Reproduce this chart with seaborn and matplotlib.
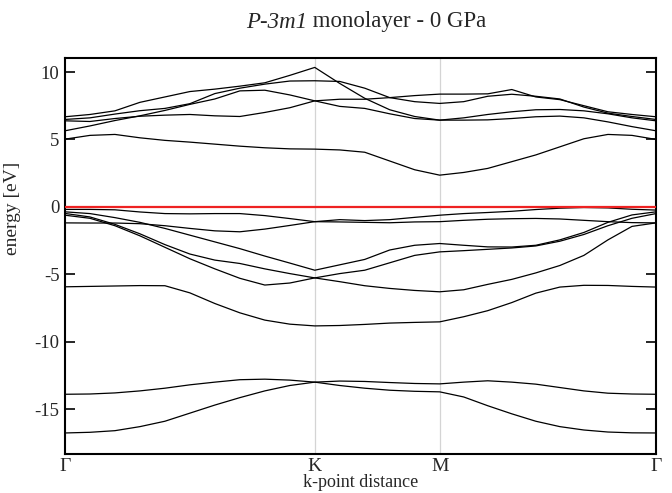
import numpy as np
import pandas as pd
import matplotlib
matplotlib.use("Agg")
import matplotlib.pyplot as plt
import seaborn as sns

# high-symmetry points (k-point distance, units of 2pi/a)
sym_labels = ["Γ", "K", "M", "Γ"]
sym_k = [0.0, 0.6667, 1.0, 1.5774]

# k grid: 10 steps G-K, 5 steps K-M, 9 steps M-G
k = np.concatenate([
    np.linspace(sym_k[0], sym_k[1], 11),
    np.linspace(sym_k[1], sym_k[2], 6)[1:],
    np.linspace(sym_k[2], sym_k[3], 10)[1:],
])

# band energies (eV), one list per drawn curve
deep_1 = [-16.77, -16.72, -16.6, -16.3, -15.9, -15.3, -14.7, -14.15, -13.65, -13.25, -13.0,
          -13.25, -13.45, -13.6, -13.68, -13.72,
          -14.1, -14.75, -15.35, -15.9, -16.3, -16.55, -16.7, -16.76, -16.77]
deep_2 = [-13.9, -13.88, -13.8, -13.65, -13.45, -13.2, -13.0, -12.82, -12.78, -12.85, -13.0,
          -12.92, -12.95, -13.03, -13.1, -13.13,
          -13.0, -12.9, -13.0, -13.15, -13.4, -13.65, -13.82, -13.88, -13.9]

val_1 = [-5.93, -5.9, -5.87, -5.84, -5.85, -6.38, -7.17, -7.86, -8.4, -8.7, -8.83,
         -8.8, -8.72, -8.62, -8.57, -8.53,
         -8.15, -7.7, -7.1, -6.4, -5.95, -5.82, -5.83, -5.9, -5.95]
val_2 = [-0.49, -0.75, -1.3, -2.0, -2.8, -3.5, -3.95, -4.2, -4.6, -4.95, -5.27,
         -5.55, -5.85, -6.05, -6.2, -6.3,
         -6.15, -5.75, -5.38, -4.9, -4.35, -3.6, -2.45, -1.45, -1.19]
val_3 = [-0.62, -0.85, -1.4, -2.15, -3.0, -3.85, -4.6, -5.3, -5.8, -5.65, -5.27,
         -4.95, -4.7, -4.15, -3.6, -3.34,
         -3.25, -3.15, -3.05, -2.9, -2.55, -2.05, -1.4, -0.85, -0.5]
val_4 = [-0.37, -0.5, -0.8, -1.15, -1.6, -2.1, -2.6, -3.1, -3.65, -4.17, -4.7,
         -4.3, -3.9, -3.2, -2.85, -2.72,
         -2.85, -2.97, -2.98, -2.85, -2.45, -1.9, -1.15, -0.6, -0.37]
val_5 = [-1.19, -1.2, -1.2, -1.25, -1.4, -1.6, -1.78, -1.85, -1.65, -1.38, -1.1,
         -0.95, -1.02, -0.95, -0.78, -0.62,
         -0.5, -0.42, -0.33, -0.2, -0.1, -0.05, -0.08, -0.18, -0.24]
val_6 = [-0.19, -0.19, -0.22, -0.38, -0.5, -0.52, -0.5, -0.5, -0.65, -0.87, -1.1,
         -1.12, -1.15, -1.18, -1.12, -1.1,
         -1.0, -0.92, -0.88, -0.86, -0.9, -1.0, -1.1, -1.17, -1.19]

cond_1 = [5.02, 5.3, 5.37, 5.12, 4.93, 4.8, 4.65, 4.5, 4.38, 4.3, 4.28,
          4.22, 4.05, 3.4, 2.75, 2.35,
          2.55, 2.85, 3.35, 3.85, 4.45, 5.05, 5.37, 5.3, 5.0]
cond_2 = [5.64, 6.0, 6.4, 6.75, 7.15, 7.6, 8.0, 8.6, 8.65, 8.3, 7.86,
          7.45, 7.3, 6.9, 6.55, 6.43,
          6.6, 6.85, 7.05, 7.2, 7.22, 7.12, 6.9, 6.6, 6.38]
cond_3 = [6.38, 6.33, 6.55, 6.72, 6.8, 6.85, 6.75, 6.7, 7.0, 7.35, 7.86,
          7.98, 7.98, 8.1, 8.25, 8.36,
          8.36, 8.38, 8.7, 8.15, 7.95, 7.5, 7.05, 6.85, 6.68]
cond_4 = [6.48, 6.6, 6.88, 7.13, 7.3, 7.65, 8.4, 8.8, 9.1, 9.33, 9.35,
          9.3, 8.8, 8.1, 7.8, 7.67,
          7.8, 8.2, 8.35, 8.2, 8.0, 7.4, 6.95, 6.7, 6.48]
cond_5 = [6.68, 6.85, 7.12, 7.75, 8.15, 8.55, 8.73, 8.95, 9.2, 9.75, 10.34,
          9.15, 8.05, 7.2, 6.7, 6.43,
          6.43, 6.45, 6.55, 6.68, 6.73, 6.6, 6.3, 5.95, 5.64]

bands = {
    "deep_1": deep_1, "deep_2": deep_2,
    "val_1": val_1, "val_2": val_2, "val_3": val_3,
    "val_4": val_4, "val_5": val_5, "val_6": val_6,
    "cond_1": cond_1, "cond_2": cond_2, "cond_3": cond_3,
    "cond_4": cond_4, "cond_5": cond_5,
}

df = pd.concat(
    [pd.DataFrame({"k": k, "energy": e, "band": name}) for name, e in bands.items()],
    ignore_index=True,
)

sns.set_theme(style="white")
plt.rcParams["font.family"] = ["Liberation Serif", "DejaVu Serif"]
plt.rcParams["axes.unicode_minus"] = False

fig = plt.figure(figsize=(6.72, 4.93), dpi=100)
ax = fig.add_axes([0.0967, 0.0791, 0.8795, 0.8033])

for kx in sym_k[1:-1]:
    ax.axvline(kx, color="#d4d4d4", lw=0.9, zorder=1)

sns.lineplot(data=df, x="k", y="energy", units="band", estimator=None,
             sort=False, color="black", linewidth=0.9, legend=False, ax=ax, zorder=2)

ax.axhline(0, color="#ee2222", lw=1.6, zorder=3)

ax.set_xlim(sym_k[0], sym_k[-1])
ax.set_ylim(-18.33, 11.04)
ax.set_xticks(sym_k)
ax.set_xticklabels(sym_labels, fontsize=14)
ax.set_yticks([-15, -10, -5, 0, 5, 10])
ax.set_yticklabels(["-15", "-10", "-5", "0", "5", "10"], fontsize=13.5)
ax.tick_params(axis="y", direction="in", length=7, width=1.4, left=True, right=True, pad=4)
ax.tick_params(axis="x", length=0, pad=3)
for sp in ax.spines.values():
    sp.set_linewidth(1.5)
    sp.set_color("black")

ax.set_xlabel("k-point distance", fontsize=13, labelpad=-1)
ax.set_ylabel("energy [eV]", fontsize=14, labelpad=4)
ax.yaxis.set_label_coords(-0.075, 0.62)

# title: italic space group followed by plain text, centred over the axes
t_it = fig.text(0, 0, "P-3m1", fontsize=16.5, style="italic", va="center")
t_rm = fig.text(0, 0, " monolayer - 0 GPa", fontsize=16.5, va="center")
renderer = fig.canvas.get_renderer()
w1 = t_it.get_window_extent(renderer).width
w2 = t_rm.get_window_extent(renderer).width
fw = fig.get_figwidth() * fig.dpi
cx = 366 / fw
x0 = cx - (w1 + w2) / 2 / fw
ty = 1 - 22 / (fig.get_figheight() * fig.dpi)
t_it.set_position((x0, ty))
t_rm.set_position((x0 + w1 / fw, ty))

fig.savefig("out.png", dpi=100)
